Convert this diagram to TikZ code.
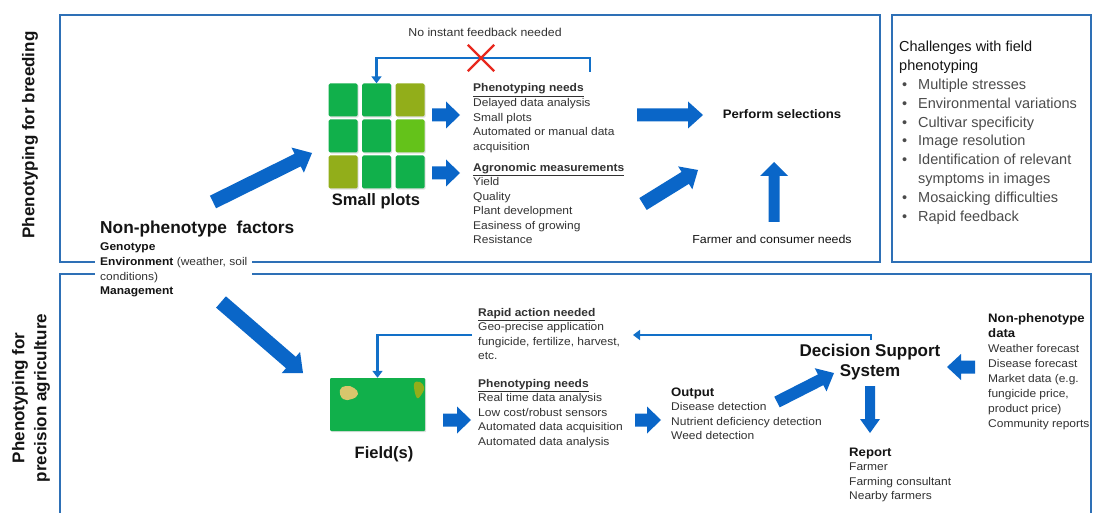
\documentclass[tikz,border=0pt]{standalone}
\usepackage{fontspec}
\setmainfont{Liberation Sans}
\newfontfamily\sm[FakeStretch=1.07]{Liberation Sans}
\usetikzlibrary{calc,arrows.meta,shapes.misc,shadows}
\definecolor{boxblue}{RGB}{46,112,182}
\definecolor{lblue}{RGB}{18,112,200}
\definecolor{ablue}{RGB}{10,102,200}
\definecolor{pgreen}{RGB}{17,176,75}
\definecolor{polive}{RGB}{146,174,26}
\definecolor{plight}{RGB}{100,194,26}
\definecolor{pyellow}{RGB}{216,198,108}
\definecolor{txt}{RGB}{50,50,50}
\definecolor{txtd}{RGB}{20,20,20}
\definecolor{txtl}{RGB}{75,75,75}
\definecolor{xred}{RGB}{232,40,30}
\newcommand\barrow[5]{%
  \coordinate (bn) at ($(#2)!#5!(#1)$);
  \fill[ablue] ($(#1)!#3!90:(#2)$) -- ($(bn)!#3!90:(#2)$) -- ($(bn)!#4!90:(#2)$) -- (#2)
    -- ($(bn)!#4!-90:(#2)$) -- ($(bn)!#3!-90:(#2)$) -- ($(#1)!#3!-90:(#2)$) -- cycle;}
\newcommand\bul{\makebox[19pt][l]{\hspace{3pt}\textbullet}}
\begin{document}
\begin{tikzpicture}[x=1pt,y=-1pt,
  boxline/.style={draw=boxblue, line width=1.7pt},
  conn/.style={draw=lblue, line width=2.6pt},
  tipb/.style={-{Triangle[length=7pt,width=10pt]}},
  shd/.style={drop shadow={shadow xshift=1.2pt, shadow yshift=-1.2pt, opacity=0.25}},
  plotsq/.style={minimum width=29pt, minimum height=33pt, inner sep=0pt, rounded corners=1.5pt, shd},
  smalltxt/.style={font=\sm\fontsize{11.2}{14.6}\selectfont, text=txt, align=left, anchor=base west, inner sep=0pt},
  bigbold/.style={font=\bfseries\fontsize{16.5}{20}\selectfont, text=txtd, inner sep=0pt},
  sidelabel/.style={font=\bfseries\fontsize{17}{22}\selectfont, text=txtd, rotate=90, align=center, inner sep=0pt},
]
\useasboundingbox (0,0) rectangle (1093,513);
\fill[white] (0,0) rectangle (1093,513);

% frames
\draw[boxline] (60,15) rectangle (880,262);
\draw[boxline] (892,15) rectangle (1091,262);
\draw[boxline] (60,513) -- (60,274) -- (1091,274) -- (1091,513);

% side labels
\node[sidelabel] (lab1) at (30,135) {Phenotyping for breeding};
\node[sidelabel] (lab2) at (31,398) {Phenotyping for\\precision agriculture};

% small plots
\node[plotsq, fill=pgreen]  (sp11) at (343,100) {};
\node[plotsq, fill=pgreen]  (sp12) at (376.5,100) {};
\node[plotsq, fill=polive]  (sp13) at (410,100) {};
\node[plotsq, fill=pgreen]  (sp21) at (343,136) {};
\node[plotsq, fill=pgreen]  (sp22) at (376.5,136) {};
\node[plotsq, fill=plight]  (sp23) at (410,136) {};
\node[plotsq, fill=polive]  (sp31) at (343,172) {};
\node[plotsq, fill=pgreen]  (sp32) at (376.5,172) {};
\node[plotsq, fill=pgreen]  (sp33) at (410,172) {};
\node[bigbold, anchor=base] (splab) at (376,206) {Small plots};

% top texts (base = baseline of last line)
\node[smalltxt, anchor=base, font=\sm\fontsize{11.5}{14.6}\selectfont] (noinst) at (485,37) {No instant feedback needed};
\node[smalltxt] (pn1) at (473,150.4) {\textbf{\underline{Phenotyping needs}}\\Delayed data analysis\\Small plots\\Automated or manual data\\acquisition};
\node[smalltxt] (ag) at (473,244) {\textbf{\underline{Agronomic measurements}}\\Yield\\Quality\\Plant development\\Easiness of growing\\Resistance};
\node[smalltxt, anchor=base, font=\sm\bfseries\fontsize{12.3}{14}\selectfont, text=txtd] (perf) at (782,119) {Perform selections};
\node[smalltxt, anchor=base, font=\sm\fontsize{11.6}{14.6}\selectfont, text=txtd] (farm) at (772,244) {Farmer and consumer needs};

% feedback (top)
\coordinate (fbstart) at (590,72);
\draw[conn, tipb] (fbstart) -- ++(0,-14) -| (sp12.north);
\node[draw=xred, cross out, line width=2.4pt, minimum width=24pt, minimum height=24pt, inner sep=0pt] (xmark) at (481,58) {};

% challenges
\node[anchor=base west, align=left, inner sep=0pt, font=\fontsize{14.5}{18.8}\selectfont, text=txtd] (chal) at (899,221.2)
 {Challenges with field\\phenotyping\\
 {\color{txtl}\bul Multiple stresses}\\
 {\color{txtl}\bul Environmental variations}\\
 {\color{txtl}\bul Cultivar specificity}\\
 {\color{txtl}\bul Image resolution}\\
 {\color{txtl}\bul Identification of relevant}\\
 {\color{txtl}\hspace*{19pt}symptoms in images}\\
 {\color{txtl}\bul Mosaicking difficulties}\\
 {\color{txtl}\bul Rapid feedback}};

% non-phenotype factors
\node[anchor=base west, inner sep=0pt, font=\bfseries\fontsize{17.3}{20}\selectfont, text=txtd] (npf) at (100,234) {Non-phenotype\ \ factors};
\node[smalltxt, fill=white, inner xsep=5pt, inner ysep=2pt] (npfd) at (95,294.8)
 {\textbf{\color{txtd}Genotype}\\\textbf{\color{txtd}Environment} (weather, soil\\conditions)\\\textbf{\color{txtd}Management}};

% field
\node[fill=pgreen, minimum width=95pt, minimum height=53pt, inner sep=0pt, rounded corners=1pt, shd] (field) at (377.5,404.5) {};
\fill[pyellow] plot[smooth cycle, tension=0.8] coordinates {(340,390) (346,386) (354,388) (358,394) (352,399) (343,399)};
\fill[polive] plot[smooth cycle, tension=0.7] coordinates {(414,384) (420,382) (424,387) (423,392) (417,398)};
\node[bigbold, anchor=base] (fieldlab) at (384,458) {Field(s)};

% bottom texts
\node[smalltxt] (rapid) at (478,359.8) {\textbf{\underline{Rapid action needed}}\\Geo-precise application\\fungicide, fertilize, harvest,\\etc.};
\node[smalltxt] (pn2) at (478,445.4) {\textbf{\underline{Phenotyping needs}}\\Real time data analysis\\Low cost/robust sensors\\Automated data acquisition\\Automated data analysis};
\node[smalltxt] (out) at (671,439.8) {{\fontsize{12.3}{14.6}\selectfont\bfseries\color{txtd}Output}\\Disease detection\\Nutrient deficiency detection\\Weed detection};
\node[font=\bfseries\fontsize{17}{20}\selectfont, text=txtd, align=center, inner sep=0pt] (dss) at (870,362) {Decision Support\\System};
\node[smalltxt] (rep) at (849,499.8) {{\fontsize{12.3}{14.6}\selectfont\bfseries\color{txtd}Report}\\Farmer\\Farming consultant\\Nearby farmers};
\node[smalltxt, font=\sm\fontsize{11.2}{14.86}\selectfont] (npd) at (988,427) {{\fontsize{12.3}{14.86}\selectfont\bfseries\color{txtd}Non-phenotype}\\{\fontsize{12.3}{14.86}\selectfont\bfseries\color{txtd}data}\\Weather forecast\\Disease forecast\\Market data (e.g.\\fungicide price,\\product price)\\Community reports};

% feedback (bottom)
\coordinate (rapidin) at (633,335);
\coordinate (rapidout) at (472,335);
\coordinate (dsstop) at (871,340);
\draw[conn, tipb] (dsstop) |- (rapidin);
\draw[conn, tipb] (rapidout) -| (field.north);

% block arrows
\coordinate (a1s) at (213,202); \coordinate (a1e) at (312,153);
\coordinate (a2s) at (432,115); \coordinate (a2e) at (460,115);
\coordinate (a3s) at (432,173); \coordinate (a3e) at (460,173);
\coordinate (a4s) at (637,115); \coordinate (a4e) at (703,115);
\coordinate (a5s) at (643,204); \coordinate (a5e) at (698,170);
\coordinate (a6s) at (774,222); \coordinate (a6e) at (774,162);
\coordinate (a7s) at (221,302); \coordinate (a7e) at (303,373);
\coordinate (a8s) at (443,420); \coordinate (a8e) at (471,420);
\coordinate (a9s) at (635,420); \coordinate (a9e) at (661,420);
\coordinate (a10s) at (777,402); \coordinate (a10e) at (834,373);
\coordinate (a11s) at (870,386); \coordinate (a11e) at (870,433);
\coordinate (a12s) at (975,367); \coordinate (a12e) at (947,367);
\barrow{a1s}{a1e}{7pt}{14pt}{16pt}
\barrow{a2s}{a2e}{6.5pt}{13.5pt}{14pt}
\barrow{a3s}{a3e}{6.5pt}{13.5pt}{14pt}
\barrow{a4s}{a4e}{6.5pt}{13.5pt}{15pt}
\barrow{a5s}{a5e}{7pt}{13.5pt}{15pt}
\barrow{a6s}{a6e}{5.5pt}{14pt}{14pt}
\barrow{a7s}{a7e}{7.5pt}{14pt}{16pt}
\barrow{a8s}{a8e}{6.5pt}{13.5pt}{14pt}
\barrow{a9s}{a9e}{6.5pt}{13.5pt}{14pt}
\barrow{a10s}{a10e}{6pt}{13pt}{15pt}
\barrow{a11s}{a11e}{5pt}{10pt}{14pt}
\barrow{a12s}{a12e}{6.5pt}{13pt}{14pt}
\end{tikzpicture}
\end{document}
